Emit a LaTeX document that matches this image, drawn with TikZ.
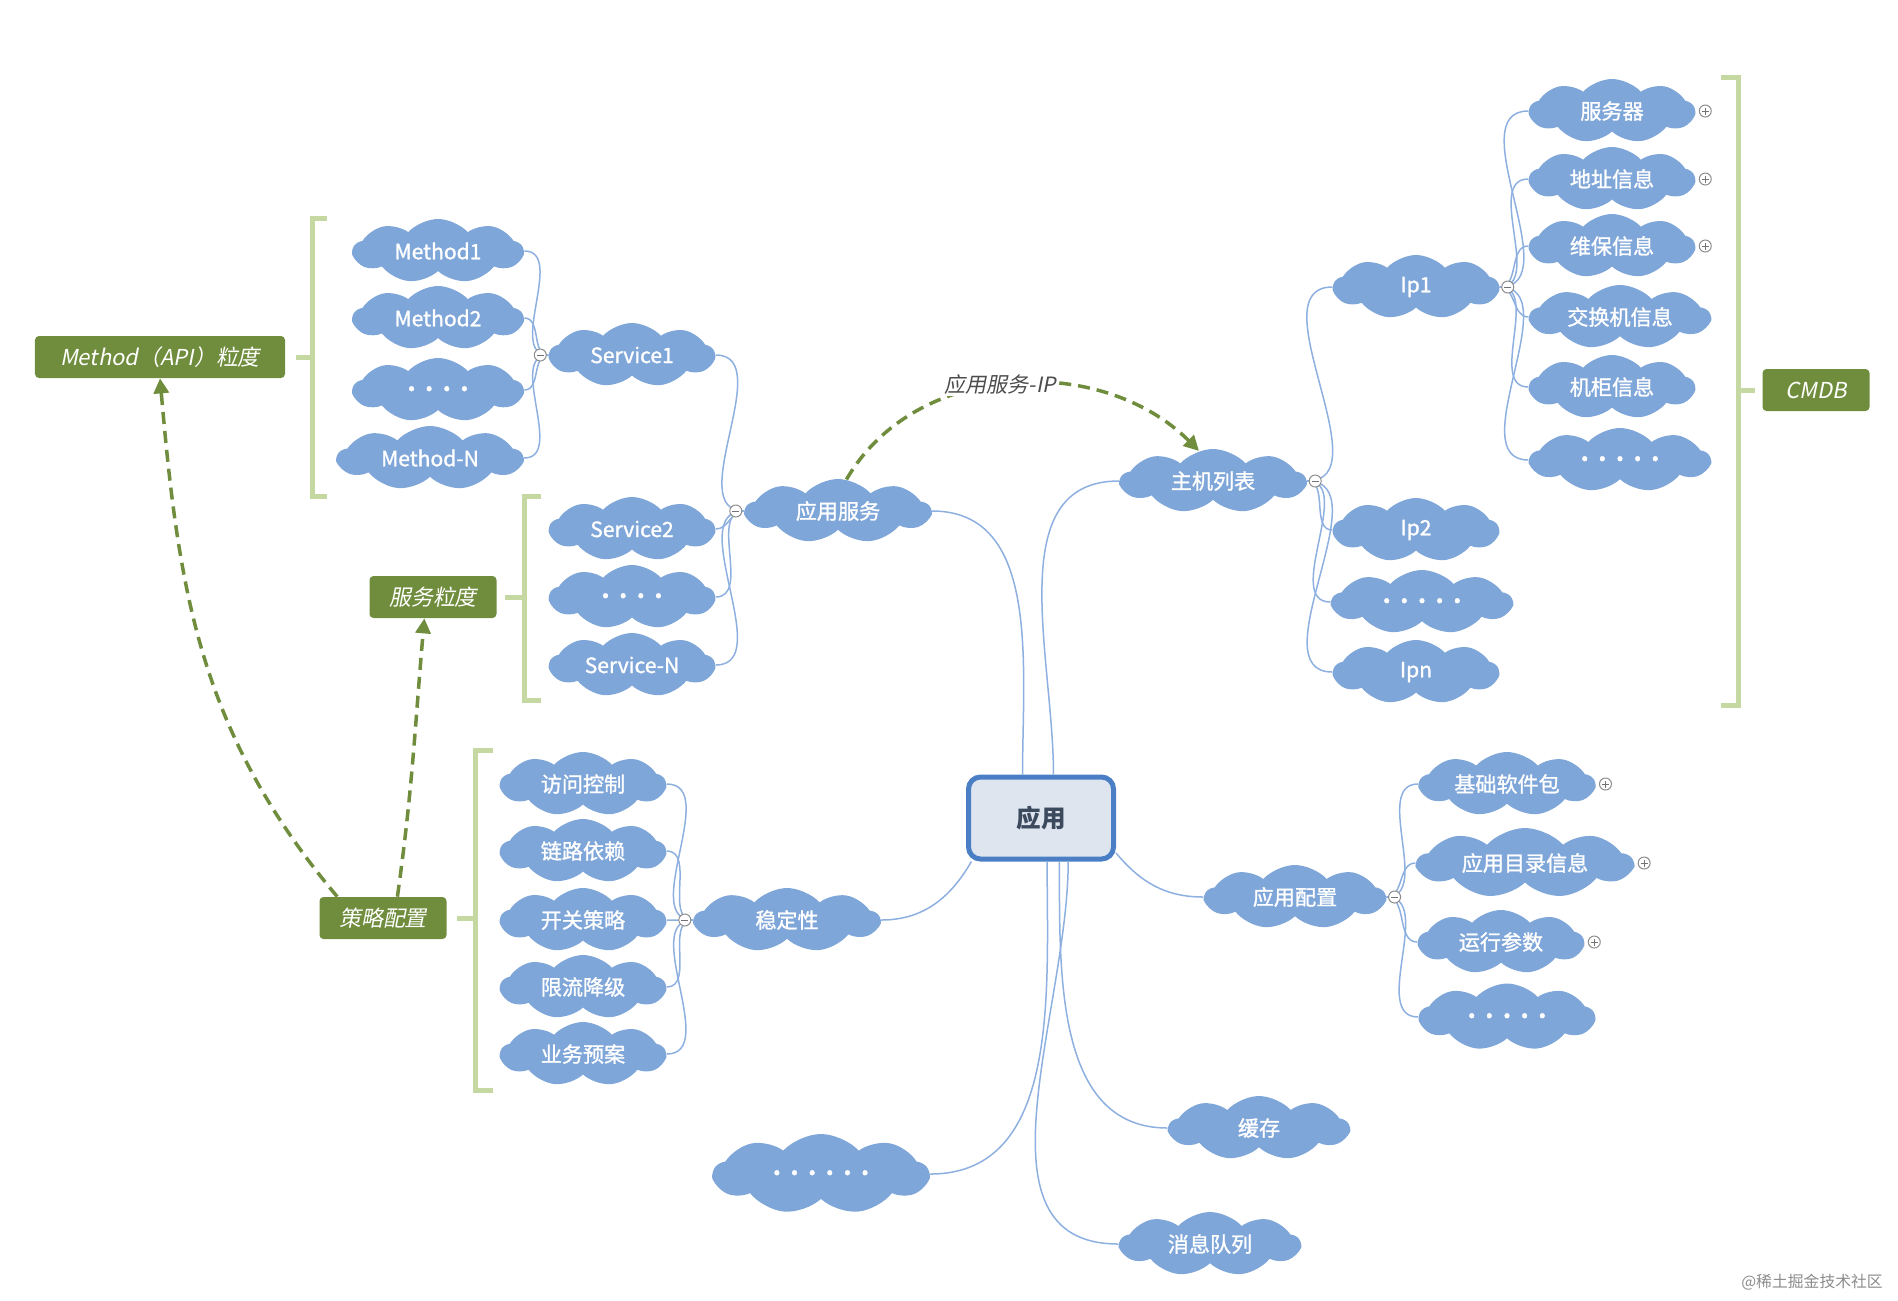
\documentclass[tikz,border=0pt]{standalone}
\usepackage{fontspec}
\setmainfont{Noto Sans CJK SC}
\newfontfamily\slantfont{Noto Sans CJK SC}[FakeSlant=0.2]
\newfontfamily\puffont{Noto Sans CJK SC}[FakeBold=1.2]
\usepackage{tikz}
\usetikzlibrary{arrows.meta,positioning,shapes.symbols}
\definecolor{puff}{HTML}{7FA6D9}
\definecolor{wire}{HTML}{8DB0E0}
\definecolor{moss}{HTML}{6F8D3C}
\definecolor{sage}{HTML}{C6D8A2}
\definecolor{rootline}{HTML}{4A7FC6}
\definecolor{rootfill}{HTML}{DEE5EF}
\definecolor{ink}{HTML}{3C4A5E}
\newcommand{\dotrow}[1]{\raisebox{0.6mm}{\fontsize{20}{20}\selectfont\foreach \k in {1,...,#1}{.\ }\unskip}}
\tikzset{
  cloudnode/.style={cloud, cloud puffs=9, cloud puff arc=95, cloud ignores aspect, fill=puff, draw=none,
              text=white, inner sep=0pt, minimum width=33mm, minimum height=12.8mm, font=\puffont\fontsize{12}{14}\selectfont},
  rootbox/.style={rectangle, rounded corners=2.4mm, draw=rootline, fill=rootfill, line width=1mm, text=ink,
              minimum width=29mm, minimum height=16.4mm, font=\fontsize{14}{16}\selectfont\bfseries},
  tagbox/.style={rectangle, rounded corners=0.8mm, fill=moss, text=white, minimum height=8.4mm, inner xsep=2mm,
              font=\slantfont\fontsize{12.5}{14}\selectfont},
  link/.style={draw=wire, line width=0.3mm},
  bracket/.style={draw=sage, line width=1mm},
  hint/.style={-{Triangle[length=3mm,width=3mm]}, draw=moss, line width=0.7mm, dash pattern=on 2.4mm off 1.4mm},
  lbl/.style={font=\slantfont\fontsize{12}{14}\selectfont, text=black!70, fill=white, inner sep=1pt},
  fold/.style={circle, draw=black!45, fill=white, line width=0.2mm, minimum size=2.4mm, inner sep=0pt},
  foldminus/.style={fold, path picture={\draw[black!55, line width=0.2mm]
              ([xshift=-0.7mm]path picture bounding box.center) -- ([xshift=0.7mm]path picture bounding box.center);}},
  foldplus/.style={fold, path picture={\draw[black!55, line width=0.2mm]
              ([xshift=-0.7mm]path picture bounding box.center) -- ([xshift=0.7mm]path picture bounding box.center)
              ([yshift=-0.7mm]path picture bounding box.center) -- ([yshift=0.7mm]path picture bounding box.center);}}
}

\begin{document}
\begin{tikzpicture}[x=0.2mm, y=0.2mm]
 \useasboundingbox (0,0) rectangle (1898,-1300);
 \node[rootbox] (app) at (1041,-818) {应用};

 % application services
 \node[cloudnode, minimum width=37mm] (appsvc) at (838,-511) {应用服务};
 \node[cloudnode] (svc1) at (632,-355) {Service1};
 \node[cloudnode] (svc2) at (632,-529) {Service2};
 \node[cloudnode] (sdots) at (632,-597) {\dotrow{4}};
 \node[cloudnode] (svcN) at (632,-665) {Service-N};
 \node[cloudnode, minimum width=34mm] (m1) at (438,-251) {Method1};
 \node[cloudnode, minimum width=34mm] (m2) at (438,-318) {Method2};
 \node[cloudnode, minimum width=34mm] (mdots) at (438,-390) {\dotrow{4}};
 \node[cloudnode, minimum width=37mm] (mN) at (430,-458) {Method-N};

 % host list
 \node[cloudnode, minimum width=37mm] (host) at (1213,-481) {主机列表};
 \node[cloudnode] (ip1) at (1416,-287) {Ip1};
 \node[cloudnode] (ip2) at (1416,-530) {Ip2};
 \node[cloudnode, minimum width=36mm] (idots) at (1422,-602) {\dotrow{5}};
 \node[cloudnode] (ipn) at (1416,-672) {Ipn};
 \node[cloudnode] (srv) at (1612,-111) {服务器};
 \node[cloudnode] (addr) at (1612,-179) {地址信息};
 \node[cloudnode] (maint) at (1612,-246) {维保信息};
 \node[cloudnode, minimum width=36mm] (swt) at (1620,-317) {交换机信息};
 \node[cloudnode] (rack) at (1612,-387) {机柜信息};
 \node[cloudnode, minimum width=36mm] (cdots) at (1620,-460) {\dotrow{5}};

 % stability
 \node[cloudnode, minimum width=37mm] (stab) at (787,-920) {稳定性};
 \node[cloudnode] (acl) at (583,-784) {访问控制};
 \node[cloudnode] (dep) at (583,-851) {链路依赖};
 \node[cloudnode] (toggle) at (583,-920) {开关策略};
 \node[cloudnode] (limit) at (583,-987) {限流降级};
 \node[cloudnode] (plan) at (583,-1054) {业务预案};

 % configuration
 \node[cloudnode, minimum width=36mm] (conf) at (1295,-897) {应用配置};
 \node[cloudnode, minimum width=35mm] (pkg) at (1507,-784) {基础软件包};
 \node[cloudnode, minimum width=43mm, minimum height=14mm] (dir) at (1525,-863) {应用目录信息};
 \node[cloudnode] (rt) at (1501,-942) {运行参数};
 \node[cloudnode, minimum width=35mm, minimum height=13.4mm] (fdots) at (1507,-1017) {\dotrow{5}};

 \node[cloudnode, minimum width=43mm, minimum height=16mm] (more) at (821,-1174) {\dotrow{6}};
 \node[cloudnode, minimum width=36mm] (cache) at (1259,-1128) {缓存};
 \node[cloudnode, minimum width=36mm] (mq) at (1210,-1244) {消息队列};

 % tags
 \node[tagbox, minimum width=50mm] (api) at (160,-357) {Method（API）粒度};
 \node[tagbox, minimum width=25.4mm] (svcg) at (433,-597) {服务粒度};
 \node[tagbox, minimum width=25.4mm] (strat) at (383,-918) {策略配置};
 \node[tagbox, minimum width=21.4mm] (cmdb) at (1816,-390) {CMDB};

 % brackets
 \draw[bracket] (327,-218) -- (312,-218) -- (312,-496) -- (327,-496);
 \draw[bracket] (541,-496) -- (524,-496) -- (524,-700) -- (541,-700);
 \draw[bracket] (493,-750) -- (475,-750) -- (475,-1090) -- (493,-1090);
 \draw[bracket] (1721,-77) -- (1738,-77) -- (1738,-705) -- (1721,-705);
 \draw[bracket] ([xshift=2.2mm]api.east) -- ++(17,0);
 \draw[bracket] ([xshift=1.7mm]svcg.east) -- ++(19,0);
 \draw[bracket] ([xshift=2.1mm]strat.east) -- ++(18,0);
 \draw[bracket] ([xshift=-1.5mm]cmdb.west) -- ++(-17,0);

 % links
 \draw[link](app.113) to[out=90,in=0] (appsvc.east);\draw[link](app.74) to[out=90,in=180] (host.west);
 \draw[link](app.212) to[out=240,in=0] (stab.east);\draw[link](app.335) to[out=-50,in=180] (conf.west);
 \draw[link](app.-82) to[out=-90,in=0] (more.east);\draw[link](app.-67) to[out=-90,in=180] (cache.west);
 \draw[link](app.-58) to[out=-90,in=180] (mq.west);
 \draw[link](appsvc.west) to[out=180,in=0] (svc1.east);\draw[link](appsvc.west) to[out=180,in=0] (svc2.east);
 \draw[link](appsvc.west) to[out=180,in=0] (sdots.east);\draw[link](appsvc.west) to[out=180,in=0] (svcN.east);
 \draw[link](svc1.west) to[out=180,in=0] (m1.east);\draw[link](svc1.west) to[out=180,in=0] (m2.east);
 \draw[link](svc1.west) to[out=180,in=0] (mdots.east);\draw[link](svc1.west) to[out=180,in=0] (mN.east);
 \draw[link](host.east) to[out=0,in=180] (ip1.west);\draw[link](host.east) to[out=0,in=180] (ip2.west);
 \draw[link](host.east) to[out=0,in=180] (idots.west);\draw[link](host.east) to[out=0,in=180] (ipn.west);
 \draw[link](ip1.east) to[out=0,in=180] (srv.west);\draw[link](ip1.east) to[out=0,in=180] (addr.west);
 \draw[link](ip1.east) to[out=0,in=180] (maint.west);\draw[link](ip1.east) to[out=0,in=180] (swt.west);
 \draw[link](ip1.east) to[out=0,in=180] (rack.west);\draw[link](ip1.east) to[out=0,in=180] (cdots.west);
 \draw[link](stab.west) to[out=180,in=0] (acl.east);\draw[link](stab.west) to[out=180,in=0] (dep.east);
 \draw[link](stab.west) to[out=180,in=0] (toggle.east);\draw[link](stab.west) to[out=180,in=0] (limit.east);
 \draw[link](stab.west) to[out=180,in=0] (plan.east);
 \draw[link](conf.east) to[out=0,in=180] (pkg.west);\draw[link](conf.east) to[out=0,in=180] (dir.west);
 \draw[link](conf.east) to[out=0,in=180] (rt.west);\draw[link](conf.east) to[out=0,in=180] (fdots.west);

 % fold markers
 \node[foldminus, left=0.3mm of svc1.west] (fsvc1) {};
 \node[foldminus, left=0.3mm of appsvc.west] (fappsvc) {};
 \node[foldminus, left=0.3mm of stab.west] (fstab) {};
 \node[foldminus, right=0.3mm of host.east] (fhost) {};
 \node[foldminus, right=0.3mm of ip1.east] (fip1) {};
 \node[foldminus, right=0.3mm of conf.east] (fconf) {};
 \node[foldplus, right=0.6mm of srv.east] (fsrv) {};
 \node[foldplus, right=0.6mm of addr.east] (faddr) {};
 \node[foldplus, right=0.6mm of maint.east] (fmaint) {};
 \node[foldplus, right=0.6mm of pkg.east] (fpkg) {};
 \node[foldplus, right=0.6mm of dir.east] (fdir) {};
 \node[foldplus, right=0.6mm of rt.east] (frt) {};

 % dashed hints
 \draw[hint] (appsvc.75) to[out=60,in=135] node[lbl, pos=0.47]{应用服务-IP} (host.115);
 \draw[hint] (strat.155) to[out=130,in=-85] (api.south);
 \draw[hint] (strat.56) to[out=82,in=-95] (svcg.248);

 \node[font=\fontsize{9}{10}\selectfont, text=black!45] (mark) at (1812,-1282) {@稀土掘金技术社区};
\end{tikzpicture}
\end{document}
